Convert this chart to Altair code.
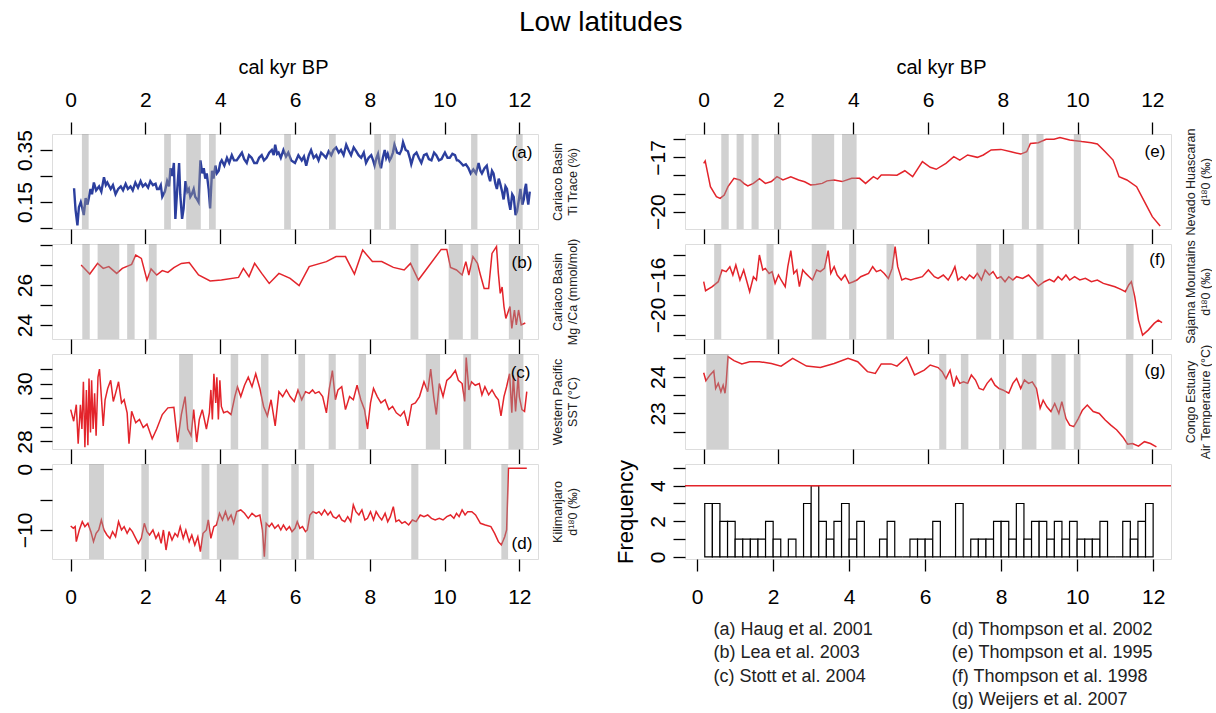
import altair as alt
import pandas as pd

FONT = "Liberation Sans"
RED = "#e3242b"
BLUE = "#2c3f9e"
BAND = "#9a9a9a"
BAND_OPACITY = 0.45

W = 486
H = 95
GAP = 15
XTICKS = [0, 2, 4, 6, 8, 10, 12]

# ---------------- data ----------------
a_pts = [(0.09,0.203),(0.13,0.12),(0.18,0.06),(0.22,0.13),(0.27,0.15),(0.31,0.127),(0.35,0.10),(0.40,0.165),
(0.45,0.14),(0.53,0.20),(0.57,0.18),(0.62,0.225),(0.68,0.195),(0.76,0.21),(0.82,0.19),(0.89,0.245),(0.94,0.215),
(0.98,0.225),(1.07,0.20),(1.13,0.215),(1.20,0.18),(1.27,0.20),(1.34,0.21),(1.40,0.195),(1.47,0.22),(1.53,0.20),
(1.60,0.21),(1.66,0.195),(1.73,0.225),(1.80,0.205),(1.87,0.23),(1.93,0.21),(2.00,0.22),(2.07,0.205),(2.13,0.23),
(2.20,0.215),(2.27,0.22),(2.31,0.20),(2.36,0.20),(2.41,0.215),(2.45,0.17),(2.52,0.19),(2.58,0.23),(2.63,0.21),
(2.67,0.28),(2.72,0.25),(2.76,0.30),(2.80,0.085),(2.85,0.20),(2.90,0.30),(2.93,0.18),(2.98,0.085),(3.02,0.125),
(3.07,0.23),(3.12,0.19),(3.16,0.20),(3.20,0.17),(3.24,0.18),(3.29,0.20),(3.33,0.17),(3.38,0.16),(3.42,0.15),
(3.47,0.31),(3.52,0.26),(3.56,0.28),(3.60,0.24),(3.64,0.26),(3.69,0.20),(3.73,0.125),(3.78,0.27),(3.82,0.24),
(3.87,0.29),(3.91,0.26),(3.96,0.27),(4.00,0.30),(4.04,0.31),(4.11,0.29),(4.18,0.32),(4.24,0.30),(4.31,0.33),
(4.37,0.31),(4.44,0.31),(4.51,0.325),(4.58,0.34),(4.64,0.315),(4.71,0.30),(4.77,0.33),(4.84,0.32),(4.91,0.30),
(4.98,0.30),(5.04,0.32),(5.11,0.33),(5.17,0.31),(5.24,0.32),(5.31,0.34),(5.38,0.35),(5.43,0.33),(5.47,0.37),
(5.52,0.335),(5.56,0.34),(5.62,0.32),(5.69,0.35),(5.76,0.325),(5.82,0.34),(5.90,0.31),(6.00,0.30),(6.09,0.33),
(6.18,0.31),(6.24,0.325),(6.30,0.29),(6.37,0.33),(6.43,0.35),(6.50,0.32),(6.57,0.33),(6.63,0.31),(6.70,0.34),
(6.77,0.33),(6.83,0.32),(6.90,0.345),(6.97,0.33),(7.03,0.35),(7.10,0.36),(7.17,0.34),(7.23,0.35),(7.30,0.33),
(7.37,0.37),(7.43,0.35),(7.50,0.33),(7.57,0.36),(7.64,0.345),(7.70,0.33),(7.77,0.32),(7.84,0.34),(7.90,0.30),
(7.97,0.32),(8.04,0.33),(8.09,0.31),(8.13,0.29),(8.18,0.32),(8.22,0.335),(8.26,0.30),(8.30,0.28),(8.35,0.32),
(8.40,0.35),(8.44,0.32),(8.48,0.335),(8.53,0.31),(8.57,0.32),(8.62,0.34),(8.66,0.37),(8.73,0.34),(8.80,0.335),
(8.85,0.35),(8.89,0.38),(8.96,0.35),(9.02,0.345),(9.07,0.32),(9.11,0.295),(9.18,0.33),(9.25,0.34),(9.31,0.32),
(9.38,0.30),(9.45,0.33),(9.52,0.335),(9.58,0.315),(9.65,0.31),(9.72,0.34),(9.78,0.33),(9.85,0.31),(9.92,0.315),
(9.97,0.33),(10.01,0.34),(10.08,0.32),(10.14,0.32),(10.21,0.335),(10.28,0.33),(10.33,0.31),(10.37,0.31),
(10.44,0.30),(10.50,0.29),(10.57,0.295),(10.64,0.28),(10.70,0.26),(10.77,0.275),(10.84,0.26),(10.91,0.30),
(10.96,0.27),(11.00,0.26),(11.07,0.28),(11.13,0.29),(11.18,0.25),(11.22,0.23),(11.27,0.27),(11.31,0.26),
(11.36,0.22),(11.40,0.20),(11.45,0.24),(11.49,0.22),(11.54,0.19),(11.58,0.16),(11.63,0.21),(11.67,0.20),
(11.72,0.15),(11.76,0.12),(11.81,0.18),(11.85,0.17),(11.90,0.10),(11.94,0.115),(11.99,0.16),(12.03,0.20),
(12.08,0.14),(12.12,0.16),(12.15,0.20),(12.18,0.22),(12.21,0.17),(12.24,0.14),(12.28,0.19)]

b_pts = [(0.28,27.0),(0.51,26.55),(0.72,27.08),(0.87,26.83),(1.02,26.92),(1.23,26.58),(1.38,26.83),(1.63,27.03),
(1.74,27.5),(1.89,27.33),(2.04,26.25),(2.15,26.8),(2.30,26.5),(2.45,26.72),(2.60,26.63),(2.76,26.87),(2.96,27.08),
(3.17,27.12),(3.42,26.5),(3.73,26.2),(4.03,26.25),(4.49,26.38),(4.62,26.83),(4.77,26.42),(4.92,27.08),(5.11,26.58),
(5.31,26.08),(5.57,26.58),(5.87,26.33),(6.11,25.97),(6.38,26.92),(6.84,27.17),(7.10,27.42),(7.35,27.42),(7.59,26.55),
(7.81,27.75),(8.07,27.17),(8.32,27.17),(8.63,26.88),(8.92,26.75),(9.09,27.08),(9.30,26.25),(9.50,26.75),(9.91,27.78),
(10.06,27.78),(10.16,26.88),(10.32,26.75),(10.47,26.5),(10.57,27.17),(10.65,26.5),(10.76,27.42),(10.88,27.08),
(10.96,26.5),(11.06,25.83),(11.18,25.83),(11.27,27.58),(11.39,27.92),(11.44,26.58),(11.49,25.58),(11.54,25.9),
(11.59,24.92),(11.64,24.33),(11.75,24.92),(11.80,23.83),(11.87,24.75),(11.92,24.0),(11.98,24.75),(12.05,24.0),
(12.16,24.1)]

c_pts = [(0.0,29.1),(0.08,28.7),(0.15,29.27),(0.2,27.92),(0.26,29.27),(0.3,28.43),(0.34,30.06),(0.38,27.8),
(0.42,29.78),(0.46,27.87),(0.49,30.17),(0.53,28.31),(0.56,30.11),(0.6,28.43),(0.64,29.66),(0.68,28.2),(0.73,30.22),
(0.77,30.5),(0.82,29.55),(0.87,28.54),(0.92,29.44),(0.99,29.83),(1.07,30.11),(1.14,29.38),(1.2,29.66),(1.28,30.06),
(1.36,29.33),(1.43,29.44),(1.51,28.99),(1.56,27.92),(1.63,29.04),(1.74,28.65),(1.84,28.76),(1.94,28.48),(2.04,28.6),
(2.18,28.09),(2.3,28.43),(2.45,28.93),(2.6,29.16),(2.76,29.18),(2.86,27.98),(2.96,28.93),(3.06,29.55),(3.13,28.43),
(3.22,28.2),(3.29,29.1),(3.37,27.98),(3.44,28.76),(3.52,29.1),(3.63,28.43),(3.71,28.99),(3.75,29.78),(3.79,28.76),
(3.83,30.34),(3.88,29.33),(3.91,30.22),(3.95,28.76),(3.99,30.11),(4.03,29.21),(4.09,28.99),(4.19,29.04),(4.29,28.93),
(4.39,29.55),(4.46,29.89),(4.55,29.55),(4.65,29.94),(4.75,30.22),(4.85,29.89),(4.95,30.34),(5.06,29.83),(5.16,29.21),
(5.26,28.88),(5.36,29.44),(5.47,28.54),(5.57,29.72),(5.67,29.55),(5.77,29.78),(5.87,29.55),(5.98,29.38),(6.08,29.78),
(6.18,29.44),(6.28,29.72),(6.38,29.66),(6.47,29.78),(6.54,29.66),(6.64,29.72),(6.74,29.55),(6.84,28.99),(6.92,29.83),
(7.0,30.45),(7.08,29.44),(7.15,29.78),(7.25,29.89),(7.35,29.1),(7.46,29.55),(7.56,29.44),(7.66,29.94),(7.76,29.44),
(7.86,29.1),(7.94,28.43),(8.02,29.33),(8.1,29.83),(8.2,29.55),(8.3,29.33),(8.41,29.44),(8.51,29.1),(8.61,29.21),
(8.71,28.99),(8.82,28.88),(8.92,29.04),(9.02,28.54),(9.12,29.27),(9.22,29.33),(9.33,29.55),(9.45,30.06),(9.55,29.72),
(9.63,30.5),(9.71,29.55),(9.78,28.93),(9.86,30.0),(9.96,29.55),(10.06,30.11),(10.16,30.22),(10.29,30.45),(10.37,30.11),
(10.47,30.0),(10.54,29.38),(10.58,30.9),(10.65,29.78),(10.72,30.06),(10.82,29.94),(10.93,30.0),(11.0,29.61),
(11.08,29.89),(11.18,29.61),(11.27,29.78),(11.37,29.55),(11.44,29.44),(11.51,28.88),(11.59,29.55),(11.66,29.89),
(11.74,30.34),(11.8,28.99),(11.84,30.28),(11.9,29.04),(11.97,30.28),(12.0,29.55),(12.07,29.1),(12.14,29.04),(12.2,29.72)]

d_pts = [(0.0,-9.34),(0.07,-9.73),(0.12,-9.45),(0.15,-11.92),(0.23,-10.0),(0.31,-8.63),(0.38,-9.45),(0.46,-8.9),
(0.54,-10.27),(0.61,-11.92),(0.68,-10.55),(0.75,-10.0),(0.82,-8.35),(0.89,-10.0),(0.97,-10.82),(1.05,-11.37),
(1.12,-10.27),(1.2,-11.1),(1.28,-8.63),(1.36,-10.0),(1.43,-9.45),(1.51,-10.55),(1.58,-9.73),(1.65,-10.27),
(1.74,-11.37),(1.81,-12.2),(1.89,-11.37),(1.97,-8.9),(2.04,-10.27),(2.11,-10.82),(2.2,-10.0),(2.28,-11.37),
(2.35,-10.55),(2.42,-12.2),(2.48,-10.0),(2.55,-13.3),(2.63,-10.27),(2.71,-11.65),(2.79,-10.55),(2.86,-11.1),
(2.93,-9.45),(3.01,-11.37),(3.08,-10.0),(3.17,-11.92),(3.24,-10.82),(3.32,-12.47),(3.4,-11.1),(3.47,-13.57),
(3.54,-10.55),(3.63,-10.0),(3.68,-8.35),(3.75,-11.37),(3.83,-9.45),(3.9,-9.18),(3.98,-7.25),(4.06,-8.35),
(4.14,-6.98),(4.21,-8.35),(4.29,-7.53),(4.36,-8.9),(4.44,-6.98),(4.55,-6.7),(4.65,-7.25),(4.75,-8.08),(4.85,-7.25),
(4.95,-7.8),(5.06,-7.53),(5.13,-10.0),(5.18,-14.4),(5.23,-8.9),(5.31,-9.45),(5.38,-8.9),(5.46,-9.73),(5.55,-9.18),
(5.62,-10.0),(5.69,-9.18),(5.77,-10.0),(5.85,-9.45),(5.92,-10.27),(6.0,-9.73),(6.06,-8.63),(6.13,-9.73),(6.2,-9.45),
(6.28,-10.27),(6.33,-10.0),(6.4,-7.53),(6.48,-6.98),(6.57,-7.25),(6.64,-6.98),(6.71,-7.53),(6.79,-6.7),(6.88,-7.53),
(6.95,-6.98),(7.02,-7.8),(7.1,-8.08),(7.18,-7.53),(7.25,-8.35),(7.33,-8.63),(7.41,-7.8),(7.49,-8.63),(7.56,-5.88),
(7.63,-6.98),(7.71,-7.53),(7.79,-6.7),(7.87,-8.35),(7.94,-8.08),(8.02,-6.98),(8.1,-8.35),(8.17,-6.98),(8.25,-7.8),
(8.32,-8.35),(8.41,-7.25),(8.48,-8.63),(8.55,-7.8),(8.63,-6.15),(8.7,-8.63),(8.78,-8.35),(8.86,-8.9),(8.94,-8.63),
(9.04,-9.18),(9.14,-8.35),(9.24,-8.63),(9.35,-7.53),(9.45,-7.8),(9.55,-7.53),(9.65,-8.08),(9.75,-8.35),(9.86,-8.08),
(9.96,-8.35),(10.06,-7.8),(10.16,-7.53),(10.25,-8.08),(10.32,-7.25),(10.39,-7.8),(10.47,-6.7),(10.55,-7.53),
(10.62,-6.98),(10.73,-6.98),(10.83,-7.53),(10.96,-8.9),(11.09,-9.18),(11.24,-9.45),(11.34,-10.55),(11.44,-11.92),
(11.52,-12.47),(11.61,-11.1),(11.66,-10.0),(11.71,0.16),(12.2,0.16)]

e_pts = [(0.0,-17.33),(0.04,-17.2),(0.18,-18.62),(0.34,-19.17),(0.44,-19.27),(0.55,-19.08),(0.65,-18.62),
(0.81,-18.16),(0.97,-18.25),(1.08,-18.45),(1.18,-18.58),(1.33,-18.44),(1.49,-18.18),(1.65,-18.44),(1.81,-18.34),
(1.96,-18.07),(2.12,-18.25),(2.33,-18.07),(2.54,-18.25),(2.7,-18.35),(2.86,-18.53),(3.0,-18.5),(3.17,-18.44),
(3.3,-18.3),(3.49,-18.25),(3.7,-18.34),(3.96,-18.16),(4.17,-18.16),(4.33,-18.44),(4.54,-18.07),(4.65,-18.2),
(4.75,-17.98),(4.96,-17.98),(5.17,-17.99),(5.38,-17.74),(5.59,-18.07),(5.85,-17.24),(6.06,-17.55),(6.22,-17.66),
(6.48,-17.33),(6.69,-16.96),(6.85,-17.15),(7.06,-16.87),(7.32,-17.0),(7.48,-16.87),(7.69,-16.59),(7.95,-16.56),
(8.22,-16.69),(8.48,-16.82),(8.64,-16.69),(8.74,-16.23),(8.95,-16.19),(9.16,-16.0),(9.37,-16.0),(9.53,-15.91),
(9.79,-16.04),(10.11,-16.13),(10.37,-16.19),(10.53,-16.26),(10.74,-16.69),(10.95,-17.15),(11.11,-18.07),
(11.32,-18.25),(11.58,-18.62),(11.79,-19.45),(12.0,-20.28),(12.21,-20.8)]

f_pts = [(0.0,-16.67),(0.05,-17.57),(0.23,-17.17),(0.39,-16.67),(0.49,-15.5),(0.6,-15.67),(0.7,-15.17),(0.78,-16.0),
(0.86,-15.0),(0.97,-16.5),(1.07,-15.5),(1.23,-17.67),(1.33,-16.17),(1.41,-16.5),(1.49,-14.0),(1.58,-15.5),
(1.65,-15.34),(1.75,-15.84),(1.83,-15.67),(1.91,-16.84),(2.0,-16.0),(2.07,-16.5),(2.18,-17.17),(2.25,-15.17),
(2.33,-13.57),(2.41,-15.84),(2.49,-15.5),(2.56,-17.17),(2.65,-15.5),(2.73,-15.84),(2.82,-16.17),(2.91,-16.5),
(3.02,-15.5),(3.12,-15.67),(3.23,-15.34),(3.33,-13.57),(3.4,-15.84),(3.49,-15.17),(3.57,-16.0),(3.68,-16.5),
(3.78,-16.0),(3.89,-16.84),(4.0,-16.67),(4.1,-16.5),(4.2,-16.17),(4.31,-16.0),(4.41,-15.84),(4.52,-15.17),
(4.62,-15.67),(4.73,-15.5),(4.83,-15.84),(4.94,-16.34),(5.04,-15.34),(5.12,-13.17),(5.19,-15.17),(5.3,-16.5),
(5.4,-16.34),(5.54,-16.5),(5.67,-16.34),(5.85,-16.17),(6.01,-15.5),(6.17,-16.17),(6.27,-16.34),(6.41,-16.0),
(6.54,-16.5),(6.64,-15.84),(6.72,-15.17),(6.8,-16.5),(6.9,-16.17),(7.01,-16.5),(7.11,-16.0),(7.22,-16.34),
(7.32,-15.84),(7.43,-16.5),(7.53,-15.5),(7.64,-16.0),(7.74,-15.67),(7.85,-16.34),(7.95,-16.17),(8.06,-16.67),
(8.16,-16.17),(8.27,-16.5),(8.37,-16.17),(8.53,-16.34),(8.69,-16.0),(8.85,-16.67),(8.95,-17.1),(9.11,-16.67),
(9.25,-16.44),(9.37,-16.67),(9.48,-16.17),(9.58,-16.5),(9.69,-16.0),(9.79,-16.5),(9.92,-16.17),(10.06,-16.5),
(10.21,-16.34),(10.37,-16.67),(10.53,-16.5),(10.69,-16.84),(10.84,-17.0),(11.0,-17.17),(11.16,-17.44),(11.28,-17.67),
(11.37,-17.0),(11.44,-16.67),(11.53,-18.17),(11.63,-20.51),(11.74,-22.01),(11.89,-21.51),(12.05,-20.84),
(12.16,-20.51),(12.26,-20.77)]

g_pts = [(0.0,24.11),(0.06,23.89),(0.17,24.05),(0.27,24.16),(0.32,23.68),(0.39,23.82),(0.46,23.59),(0.52,23.77),
(0.57,23.55),(0.6,23.82),(0.65,24.55),(0.81,24.44),(1.02,24.35),(1.23,24.41),(1.49,24.41),(1.81,24.36),(2.07,24.29),
(2.38,24.5),(2.75,24.29),(3.12,24.25),(3.49,24.36),(3.86,24.5),(4.12,24.41),(4.38,24.14),(4.59,24.09),(4.75,24.35),
(5.01,24.35),(5.17,24.29),(5.43,24.53),(5.64,24.05),(5.9,24.18),(6.06,24.32),(6.27,24.25),(6.38,24.14),(6.48,23.95),
(6.59,24.18),(6.69,23.73),(6.76,24.0),(6.85,23.82),(6.95,23.86),(7.06,23.82),(7.16,24.05),(7.27,23.91),(7.37,23.68),
(7.48,23.64),(7.58,23.82),(7.69,23.95),(7.79,23.77),(7.9,23.68),(8.0,23.64),(8.16,23.55),(8.27,23.82),(8.37,23.95),
(8.48,23.68),(8.58,23.91),(8.69,23.82),(8.79,23.86),(8.9,23.68),(9.0,23.14),(9.08,23.36),(9.18,23.18),(9.29,23.05),
(9.39,23.27),(9.5,23.0),(9.58,23.32),(9.69,22.86),(9.79,22.68),(9.9,22.64),(10.02,22.86),(10.13,23.09),(10.26,23.23),
(10.42,23.05),(10.58,23.0),(10.74,22.82),(10.89,22.68),(11.05,22.55),(11.21,22.36),(11.34,22.16),(11.47,22.18),
(11.63,22.11),(11.79,22.23),(11.95,22.18),(12.11,22.09)]

# grey event bands (kyr BP)
a_bands = [(0.30,0.48),(2.50,2.68),(3.09,3.48),(3.70,3.88),(5.71,5.89),(6.91,7.09),(8.12,8.30),(8.52,8.70),(10.71,10.88),(11.91,12.09)]
b_bands = [(0.31,0.51),(0.72,1.30),(1.51,1.71),(2.09,2.30),(9.09,9.30),(10.11,10.49),(10.70,10.90),(11.72,12.10)]
c_bands = [(2.90,3.27),(4.28,4.48),(5.09,5.29),(6.09,6.27),(6.90,7.09),(7.70,7.90),(9.50,9.88),(10.50,10.71),(11.71,12.11)]
d_bands = [(0.49,0.89),(1.89,2.09),(3.50,3.71),(3.91,4.49),(5.11,5.29),(5.90,6.10),(6.30,6.51),(9.11,9.30),(11.52,11.70)]
e_bands = [(0.47,0.67),(0.88,1.07),(1.28,1.47),(1.88,2.07),(2.89,3.49),(3.70,4.09),(8.51,8.70),(8.90,9.09),(9.90,10.09)]
f_bands = [(0.28,0.47),(1.68,1.87),(2.89,3.28),(3.89,4.08),(4.89,5.09),(7.29,7.69),(7.90,8.29),(8.90,9.09),(11.30,11.50)]
g_bands = [(0.07,0.67),(6.30,6.49),(6.88,7.08),(7.90,8.09),(8.51,8.90),(9.30,9.68),(9.90,10.08),(11.29,11.49)]

# histogram of event frequency (0.2 kyr bins)
hist_edges = [0.2,0.4,0.6,0.8,1.0,1.2,1.4,1.6,1.8,2.0,2.2,2.4,2.6,2.8,3.0,3.2,3.4,3.6,3.8,4.0,4.2,4.4,4.6,4.8,5.0,
              5.2,5.4,5.6,5.8,6.0,6.2,6.4,6.6,6.8,7.0,7.2,7.4,7.6,7.8,8.0,8.2,8.4,8.6,8.8,9.0,9.2,9.4,9.6,9.8,10.0,
              10.2,10.4,10.6,10.8,11.0,11.2,11.4,11.6,11.8,12.0]
hist_counts = [3,3,2,2,1,1,1,1,2,1,0,1,0,3,4,2,1,2,3,1,2,0,0,1,2,0,0,1,1,1,
               2,0,0,3,0,1,1,1,2,2,1,3,1,2,2,1,2,1,2,1,1,1,2,0,0,2,1,2,3]
threshold = [4]

legend_labels = ["(a) Haug et al. 2001", "(b) Lea et al. 2003", "(c) Stott et al. 2004",
                 "(d) Thompson et al. 2002", "(e) Thompson et al. 1995", "(f) Thompson et al. 1998",
                 "(g) Weijers et al. 2007"]
legend_col = [0, 0, 0, 1, 1, 1, 1]
legend_row = [0, 1, 2, 0, 1, 2, 3]

COMMON = dict(domain=False, grid=False, tickColor="black", tickWidth=1.3, labelColor="black",
              labelFont=FONT, labelFlush=False, labelOverlap=False)


def label_expr(shown):
    return "indexof([" + ",".join(repr(v) for v in shown) + "], datum.value) >= 0 ? datum.label : ''"


def x_axis(bottom_labels):
    if bottom_labels:
        return alt.Axis(orient="bottom", values=XTICKS, tickSize=12, labelPadding=15, labelFontSize=21,
                        format="d", title=None, **COMMON)
    return alt.Axis(orient="bottom", values=XTICKS, tickSize=GAP, labels=False, title=None, **COMMON)


def y_axis(ticks, shown, fmt, title=None):
    kw = dict(orient="left", values=ticks, labelExpr=label_expr(shown), format=fmt, tickSize=12,
              labelAngle=270, labelAlign="center", labelBaseline="bottom", labelPadding=5,
              labelFontSize=21, **COMMON)
    if title is None:
        return alt.Axis(title=None, **kw)
    return alt.Axis(title=title, titleFont=FONT, titleFontSize=22, titleFontWeight="normal",
                    titleColor="black", titlePadding=10, **kw)


def panel(pts, color, bands, ydom, yticks, yshown, yfmt, tag, tag_pos, rtitle,
          top=False, bottom_labels=False, sw=1.5, top_title_x=243):
    df = pd.DataFrame(pts, columns=["x", "y"])
    bdf = pd.DataFrame(bands, columns=["x0", "x1"])
    tdf = pd.DataFrame([{"x": tag_pos[0], "y": tag_pos[1], "t": tag}])
    xsc = alt.Scale(domain=[-0.5, 12.5], nice=False, zero=False)
    ysc = alt.Scale(domain=list(ydom), nice=False, zero=False)

    line = alt.Chart(df).mark_line(color=color, strokeWidth=sw, clip=True).encode(
        x=alt.X("x:Q", scale=xsc, axis=x_axis(bottom_labels)),
        y=alt.Y("y:Q", scale=ysc, axis=y_axis(yticks, yshown, yfmt)),
    )
    if top:
        tax = alt.Axis(orient="top", values=XTICKS, tickSize=12, labelPadding=12, labelFontSize=21,
                       format="d", title="cal kyr BP", titleFont=FONT, titleFontSize=20,
                       titleFontWeight="normal", titleColor="black", titlePadding=12,
                       titleX=top_title_x, **COMMON)
        bx = alt.X("x0:Q", scale=xsc, axis=tax)
    else:
        bx = alt.X("x0:Q", scale=xsc, axis=None)
    rect = alt.Chart(bdf).mark_rect(color=BAND, opacity=BAND_OPACITY).encode(x=bx, x2="x1:Q")

    rax = alt.Axis(orient="right", labels=False, ticks=False, domain=False, grid=False,
                   minExtent=0, title=rtitle, titleAngle=270, titleBaseline="top", titleAlign="center",
                   titlePadding=-2, titleFontSize=12.5, titleFont=FONT, titleFontWeight="normal",
                   titleColor="#222222", titleLineHeight=15)
    text = alt.Chart(tdf).mark_text(align="right", baseline="middle", fontSize=17, font=FONT,
                                    color="black").encode(
        x=alt.X("x:Q", scale=xsc, axis=None),
        y=alt.Y("y:Q", scale=ysc, axis=rax),
        text="t:N",
    )
    return alt.layer(line, rect, text).resolve_scale(x="independent", y="independent").properties(
        width=W, height=H)


pa = panel(a_pts, BLUE, a_bands, (0.0462, 0.4115), [0.05, 0.15, 0.25, 0.35], [0.15, 0.35], ".2f",
           "(a)", (12.35, 0.337), ["Cariaco Basin", "Ti Trace (%)"], top=True, sw=2.4, top_title_x=231)
pb = panel(b_pts, RED, b_bands, (23.3, 28.05), [24, 25, 26, 27, 28], [24, 26], "d",
           "(b)", (12.35, 27.1), ["Cariaco Basin", "Mg /Ca (mmol/mol)"])
pc = panel(c_pts, RED, c_bands, (27.74, 31.02), [28, 28.5, 29, 29.5, 30, 30.5], [28, 30], ".0f",
           "(c)", (12.3, 30.36), ["Western Pacific", "SST (°C)"])
pd_ = panel(d_pts, RED, d_bands, (-14.78, 0.87), [0, -5, -10], [0, -10], "d",
            "(d)", (12.35, -12.3), ["Kilimanjaro", "d¹⁸0 (‰)"], bottom_labels=True)

pe = panel(e_pts, RED, e_bands, (-20.96, -15.71), [-16, -17, -18, -19, -20], [-17, -20], "d",
           "(e)", (12.35, -16.7), ["Nevado Huascaran", "d¹⁸0 (‰)"], top=True, top_title_x=256)
pf = panel(f_pts, RED, f_bands, (-22.4, -12.9), [-14, -16, -18, -20, -22], [-16, -20], "d",
           "(f)", (12.35, -14.5), ["Sajama Mountains", "d¹⁸0 (‰)"])
pg = panel(g_pts, RED, g_bands, (22.03, 24.62), [22.5, 23, 23.5, 24, 24.5], [23, 24], ".0f",
           "(g)", (12.35, 24.16), ["Congo Estuary", "Air Temperature (°C)"])

# histogram panel, with the reference list written underneath it
hdf = pd.DataFrame({"x0": hist_edges[:-1], "x1": hist_edges[1:], "n": hist_counts})
hx = alt.Scale(domain=[-0.32, 12.47], nice=False, zero=False)
hy = alt.Scale(domain=[-0.12, 5.22], nice=False, zero=False)
bars = alt.Chart(hdf).mark_rect(fill="white", stroke="black", strokeWidth=1.2).encode(
    x=alt.X("x0:Q", scale=hx, axis=x_axis(True)),
    x2="x1:Q",
    y=alt.Y("n:Q", scale=hy, axis=y_axis([0, 1, 2, 3, 4, 5], [0, 2, 4], "d", title="Frequency")),
    y2=alt.datum(0),
)
rule = alt.Chart(pd.DataFrame({"v": threshold})).mark_rule(color=RED, strokeWidth=1.6).encode(
    y=alt.Y("v:Q", scale=hy, axis=None))

ldf = pd.DataFrame({"col": legend_col, "row": legend_row, "label": legend_labels})
legend = alt.Chart(ldf).mark_text(align="left", baseline="middle", fontSize=18, font=FONT,
                                  color="#222222").encode(
    x=alt.X("col:Q", scale=alt.Scale(domain=[-0.12, 1.92], nice=False, zero=False), axis=None),
    y=alt.Y("row:Q", scale=alt.Scale(domain=[-7.064, -3.021], nice=False, zero=False, reverse=True),
            axis=None),
    text="label:N",
)
ph = alt.layer(bars, rule, legend).resolve_scale(x="independent", y="independent").properties(
    width=W, height=H)

chart = alt.concat(pa, pe, pb, pf, pc, pg, pd_, ph, columns=2,
                   spacing={"row": GAP, "column": 147}, bounds="flush").properties(
    title=alt.TitleParams("Low latitudes", fontSize=28, font=FONT, fontWeight="normal",
                          anchor="middle", color="black", offset=20, dx=-12),
    padding={"left": 13, "top": 8, "right": 0, "bottom": 0},
).configure_view(stroke="black", strokeWidth=1.5).configure(font=FONT, background="white")

chart.save("out.html", embed_options={"renderer": "svg", "actions": False})
